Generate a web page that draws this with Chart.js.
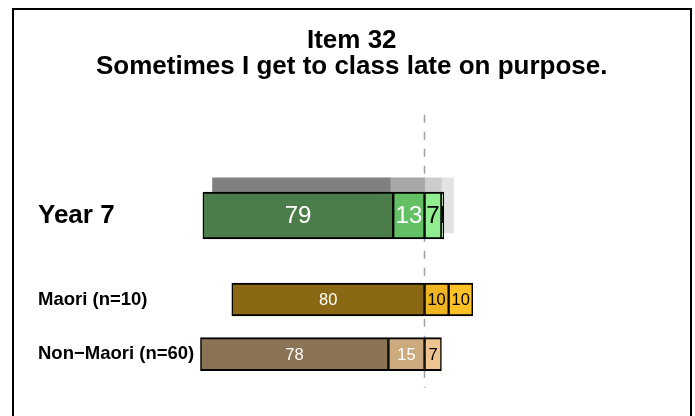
<!DOCTYPE html>
<html lang="en">
<head>
<meta charset="UTF-8">
<title>Item 32</title>
<script src="https://cdn.jsdelivr.net/npm/chart.js"></script>
<style>
  html, body { margin: 0; padding: 0; background: #fff; }
  #wrap { width: 695px; height: 416px; }
</style>
</head>
<body>
<div id="wrap"><canvas id="myChart"></canvas></div>
<script>
// rows, top to bottom
const rowLabels = ['Year 7', 'Maori (n=10)', 'Non\u2212Maori (n=60)'];
// percentages per response level (left side: disagree, right side: agree)
const stronglyDisagree = [79, 80, 78];
const disagree = [13, 0, 15];
const agree = [7, 10, 7];
const stronglyAgree = [1, 10, 0];
// grey comparison bar behind Year 7: SD, D, A, SA
const compareValues = [74, 14, 7, 5];

// layout only
const rowPos = [1, 2, 2.65];
const comparePos = 0.88;
const FONT = '"Liberation Sans", Arial, sans-serif';

// colours per row: SD, D, A, SA
const rowColors = [
  ['#4b7d4b', '#64c064', '#90ee90', '#c6f7c6'],
  ['#8b6914', '#cd9b1d', '#eeb422', '#ffc125'],
  ['#8b7355', '#cdaa7d', '#eec591', '#ffd39b']
];
const rowText = [
  ['#fff', '#fff', '#000', '#000'],
  ['#fff', '#000', '#000', '#000'],
  ['#fff', '#fff', '#000', '#000']
];
const compareColors = ['#808080', '#a8a8a8', '#cccccc', '#e3e3e3'];

// stacking order outward from the centre line
const levels = [
  { vals: disagree, sign: -1, k: 1 },
  { vals: stronglyDisagree, sign: -1, k: 0 },
  { vals: agree, sign: 1, k: 2 },
  { vals: stronglyAgree, sign: 1, k: 3 }
];

const datasets = [];
// Year 7 (thick bars) then the two groups (thinner bars)
[[0], [1, 2]].forEach(rows => {
  levels.forEach(lv => {
    datasets.push({
      data: rows.filter(r => lv.vals[r] > 0)
                .map(r => ({ x: lv.sign * lv.vals[r], y: rowPos[r], row: r })),
      backgroundColor: ctx => ctx.raw ? rowColors[ctx.raw.row][lv.k] : '#000',
      borderColor: '#000',
      borderWidth: { top: 2, bottom: 2, left: 1.5, right: 1.5 },
      borderSkipped: false,
      barThickness: rows[0] === 0 ? 47 : 33,
      clip: false,
      level: lv.k,
      showLabels: true
    });
  });
});
// comparison bar, drawn underneath (last in list)
levels.forEach(lv => {
  datasets.push({
    data: [{ x: lv.sign * compareValues[lv.k], y: comparePos }],
    backgroundColor: compareColors[lv.k],
    borderWidth: 0,
    barThickness: 55,
    clip: false
  });
});

const frame = {
  id: 'frame',
  afterDraw(chart) {
    const c = chart.ctx;
    c.save();
    c.strokeStyle = '#000';
    c.lineWidth = 2;
    c.strokeRect(13, 9, 678, 420);
    c.restore();
  }
};

const centreLine = {
  id: 'centreLine',
  beforeDatasetsDraw(chart) {
    const { ctx, scales: { x, y } } = chart;
    const px = Math.round(x.getPixelForValue(0)) - 0.5;
    ctx.save();
    ctx.strokeStyle = '#a0a0a0';
    ctx.lineWidth = 1.5;
    ctx.setLineDash([8, 9]);
    ctx.beginPath();
    ctx.moveTo(px, y.getPixelForValue(-0.2));
    ctx.lineTo(px, y.getPixelForValue(3.05));
    ctx.stroke();
    ctx.restore();
  }
};

const barLabels = {
  id: 'barLabels',
  afterDatasetsDraw(chart) {
    const ctx = chart.ctx;
    chart.data.datasets.forEach((ds, i) => {
      if (!ds.showLabels) return;
      chart.getDatasetMeta(i).data.forEach((el, j) => {
        const raw = ds.data[j];
        const { x, y, base, height } = el.getProps(['x', 'y', 'base', 'height'], true);
        const left = Math.min(x, base), w = Math.abs(x - base);
        ctx.save();
        ctx.beginPath();
        ctx.rect(left, y - height / 2, w, height);
        ctx.clip();
        ctx.fillStyle = rowText[raw.row][ds.level];
        ctx.font = (raw.row === 0 ? '24px ' : '16.5px ') + FONT;
        ctx.textAlign = 'center';
        ctx.textBaseline = 'middle';
        ctx.fillText(String(Math.abs(raw.x)), left + w / 2, y + 1);
        ctx.restore();
      });
    });
  }
};

new Chart(document.getElementById('myChart'), {
  type: 'bar',
  data: { datasets: datasets },
  options: {
    indexAxis: 'y',
    responsive: true,
    maintainAspectRatio: false,
    animation: false,
    devicePixelRatio: 1,
    layout: { padding: { top: 16, left: 38, right: 29.5, bottom: 0 } },
    scales: {
      x: { type: 'linear', min: -93.2, max: 100, stacked: true, display: false },
      y: {
        type: 'linear', reverse: true, min: -0.375, max: 3.387, stacked: true,
        offset: false,
        bounds: 'data',
        grid: { display: false },
        border: { display: false },
        afterBuildTicks: s => { s.ticks = rowPos.map(v => ({ value: v })); },
        afterFit: s => { s.width = 162; s.paddingTop = 0; s.paddingBottom = 0; },
        ticks: {
          autoSkip: false,
          crossAlign: 'far',
          padding: 0,
          color: '#000',
          callback: (v, i) => rowLabels[i],
          font: ctx => ({ family: FONT, size: ctx.index === 0 ? 26 : 18.5, weight: 'bold' })
        }
      }
    },
    plugins: {
      legend: { display: false },
      tooltip: { enabled: false },
      title: {
        display: true,
        text: ['Item 32', 'Sometimes I get to class late on purpose.'],
        color: '#000',
        font: { family: FONT, size: 26, weight: 'bold', lineHeight: 1.0 },
        padding: { top: 12, bottom: 20 }
      }
    }
  },
  plugins: [frame, centreLine, barLabels]
});
</script>
</body>
</html>
